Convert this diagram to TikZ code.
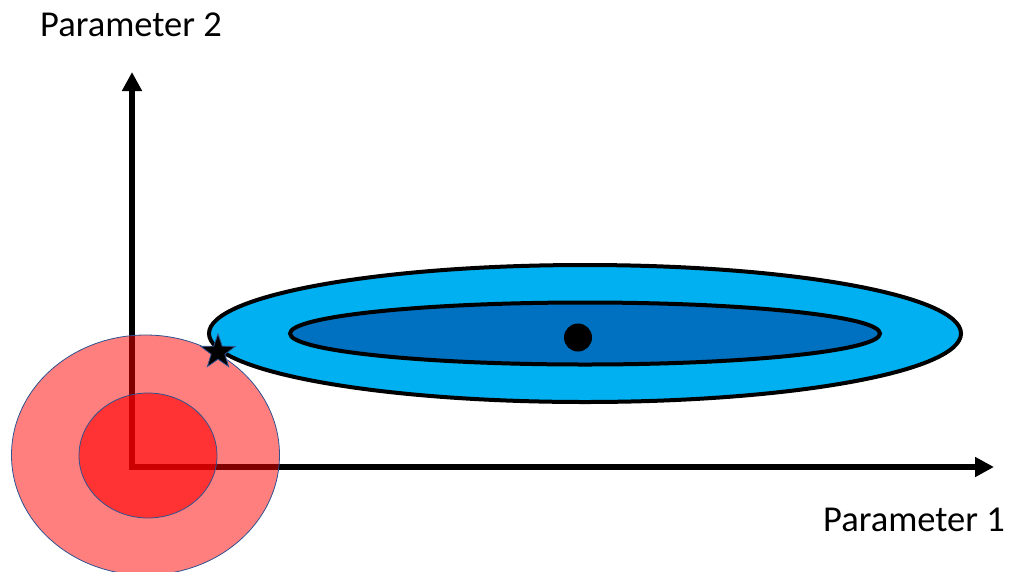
\documentclass[tikz,border=0pt]{standalone}
\usepackage{fontspec}
\setmainfont{Carlito}
\usetikzlibrary{arrows.meta,shapes.geometric}
\definecolor{skyblue}{HTML}{00B0F0}
\definecolor{deepblue}{HTML}{0070C0}
\definecolor{rimblue}{HTML}{2F528F}

\begin{document}
\begin{tikzpicture}[x=1pt, y=-1pt,
    axis/.style={line width=5.5pt,
                 {Triangle[length=19pt,width=19pt]}-{Triangle[length=19pt,width=19pt]}},
    blob/.style={ellipse, draw=black, line width=4pt, inner sep=0pt, fill=#1},
    spot/.style={ellipse, draw=rimblue, line width=0.8pt, inner sep=0pt,
                 fill=red, fill opacity=#1, draw opacity=1},
    lbl/.style={inner sep=0pt, font=\fontsize{36.5}{40}\selectfont}
  ]
    \useasboundingbox (0,0) rectangle (1011,571);

    % Axes
    \coordinate (origin) at (132,467);
    \coordinate (ytip)   at (132,72);
    \coordinate (xtip)   at (994,467);
    \draw[axis] (ytip) -- (origin) -- (xtip);

    % Blue ellipses
    \node[blob=skyblue, minimum width=752pt, minimum height=137pt]
      (wide) at (585,333.5) {};
    \node[blob=deepblue, minimum width=590pt, minimum height=62pt]
      (narrow) at (585,333.5) {};
    \node[circle, fill=black, inner sep=0pt, minimum size=28pt]
      (optimum) at (578,337.5) {};

    % Red circles
    \node[spot=0.5, minimum width=268pt, minimum height=240pt]
      (outer) at (145.5,455) {};
    \node[spot=0.6, minimum width=138pt, minimum height=125pt]
      (inner) at (148,455.5) {};

    % Star
    \node[star, star points=5, star point ratio=2.5, minimum size=36pt,
          inner sep=0pt, fill=black, draw=rimblue, line width=0.8pt]
      (meet) at (218,352) {};

    % Labels
    \node[lbl, anchor=base west] (ylabel) at (40,36)    {Parameter 2};
    \node[lbl, anchor=base east] (xlabel) at (1005,531) {Parameter 1};
\end{tikzpicture}
\end{document}
